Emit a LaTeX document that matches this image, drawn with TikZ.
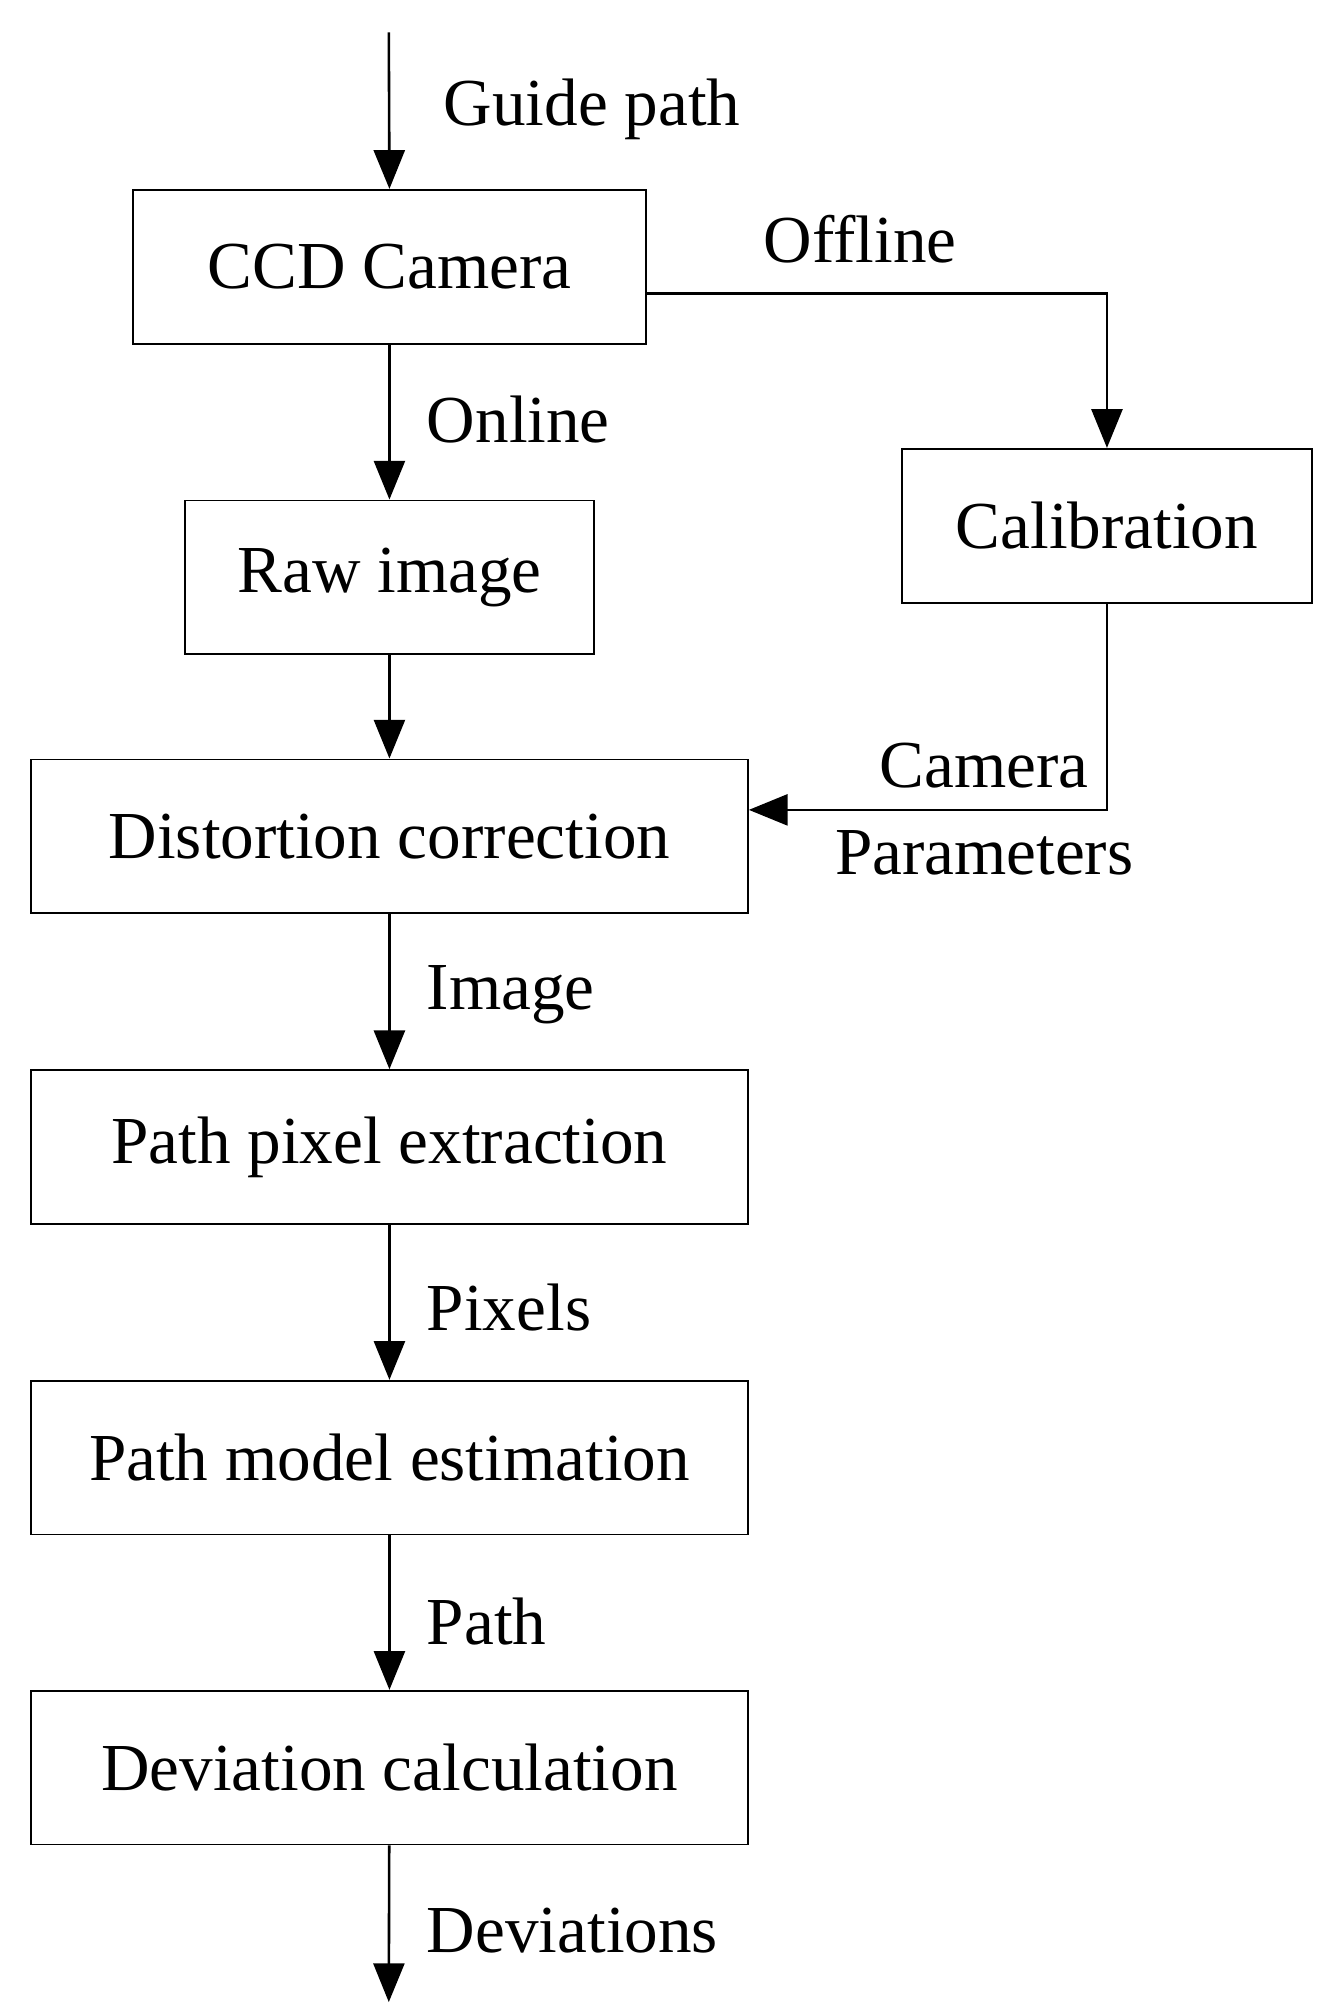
\documentclass[tikz,border=0pt]{standalone}
\usepackage{fontspec}
\setmainfont{Liberation Serif}
\usetikzlibrary{arrows.meta}
\begin{document}
\begin{tikzpicture}[x=1pt,y=-1pt,
  every node/.style={font=\fontsize{52}{58}\selectfont},
  box/.style={draw,line width=1.5pt,minimum height=119pt,inner sep=0pt},
  ar/.style={line width=2pt,-{Triangle[length=30pt,width=24pt]}},
  ln/.style={line width=2pt}]
\useasboundingbox (0,0) rectangle (1030,1560);
\node[box,minimum width=397pt] (ccd) at (301.5,206.5) {CCD Camera};
\node[box,minimum width=318pt] (cal) at (857,407) {Calibration};
\node[box,minimum width=317pt] (raw) at (301.5,447) {Raw image};
\node[box,minimum width=555pt] (dis) at (301.5,647.5) {Distortion correction};
\node[box,minimum width=555pt] (ppe) at (301.5,888) {Path pixel extraction};
\node[box,minimum width=555pt] (pme) at (301.5,1128.5) {Path model estimation};
\node[box,minimum width=555pt] (dev) at (301.5,1368.5) {Deviation calculation};
\coordinate (top) at (301,25);
\coordinate (bot) at (301,1550);
\draw[ar] (top) -- (ccd.north);
\node[anchor=west] at (340,85) {Guide path};
\draw[ar] (ccd.east |- 0,227) -| (cal.north);
\node at (666,185) {Offline};
\draw[ar] (ccd) -- (raw);
\node[anchor=west] at (327,325) {Online};
\draw[ar] (raw) -- (dis);
\draw[ar] (cal.south) |- (dis.east |- 0,627);
\node at (762,593) {Camera};
\node at (762,660) {Parameters};
\draw[ar] (dis) -- (ppe);
\node[anchor=west] at (327,770) {Image};
\draw[ar] (ppe) -- (pme);
\node[anchor=west] at (327,1012) {Pixels};
\draw[ar] (pme) -- (dev);
\node[anchor=west] at (327,1255) {Path};
\draw[ar] (dev) -- (bot);
\node[anchor=west] at (327,1495) {Deviations};
\end{tikzpicture}
\end{document}
